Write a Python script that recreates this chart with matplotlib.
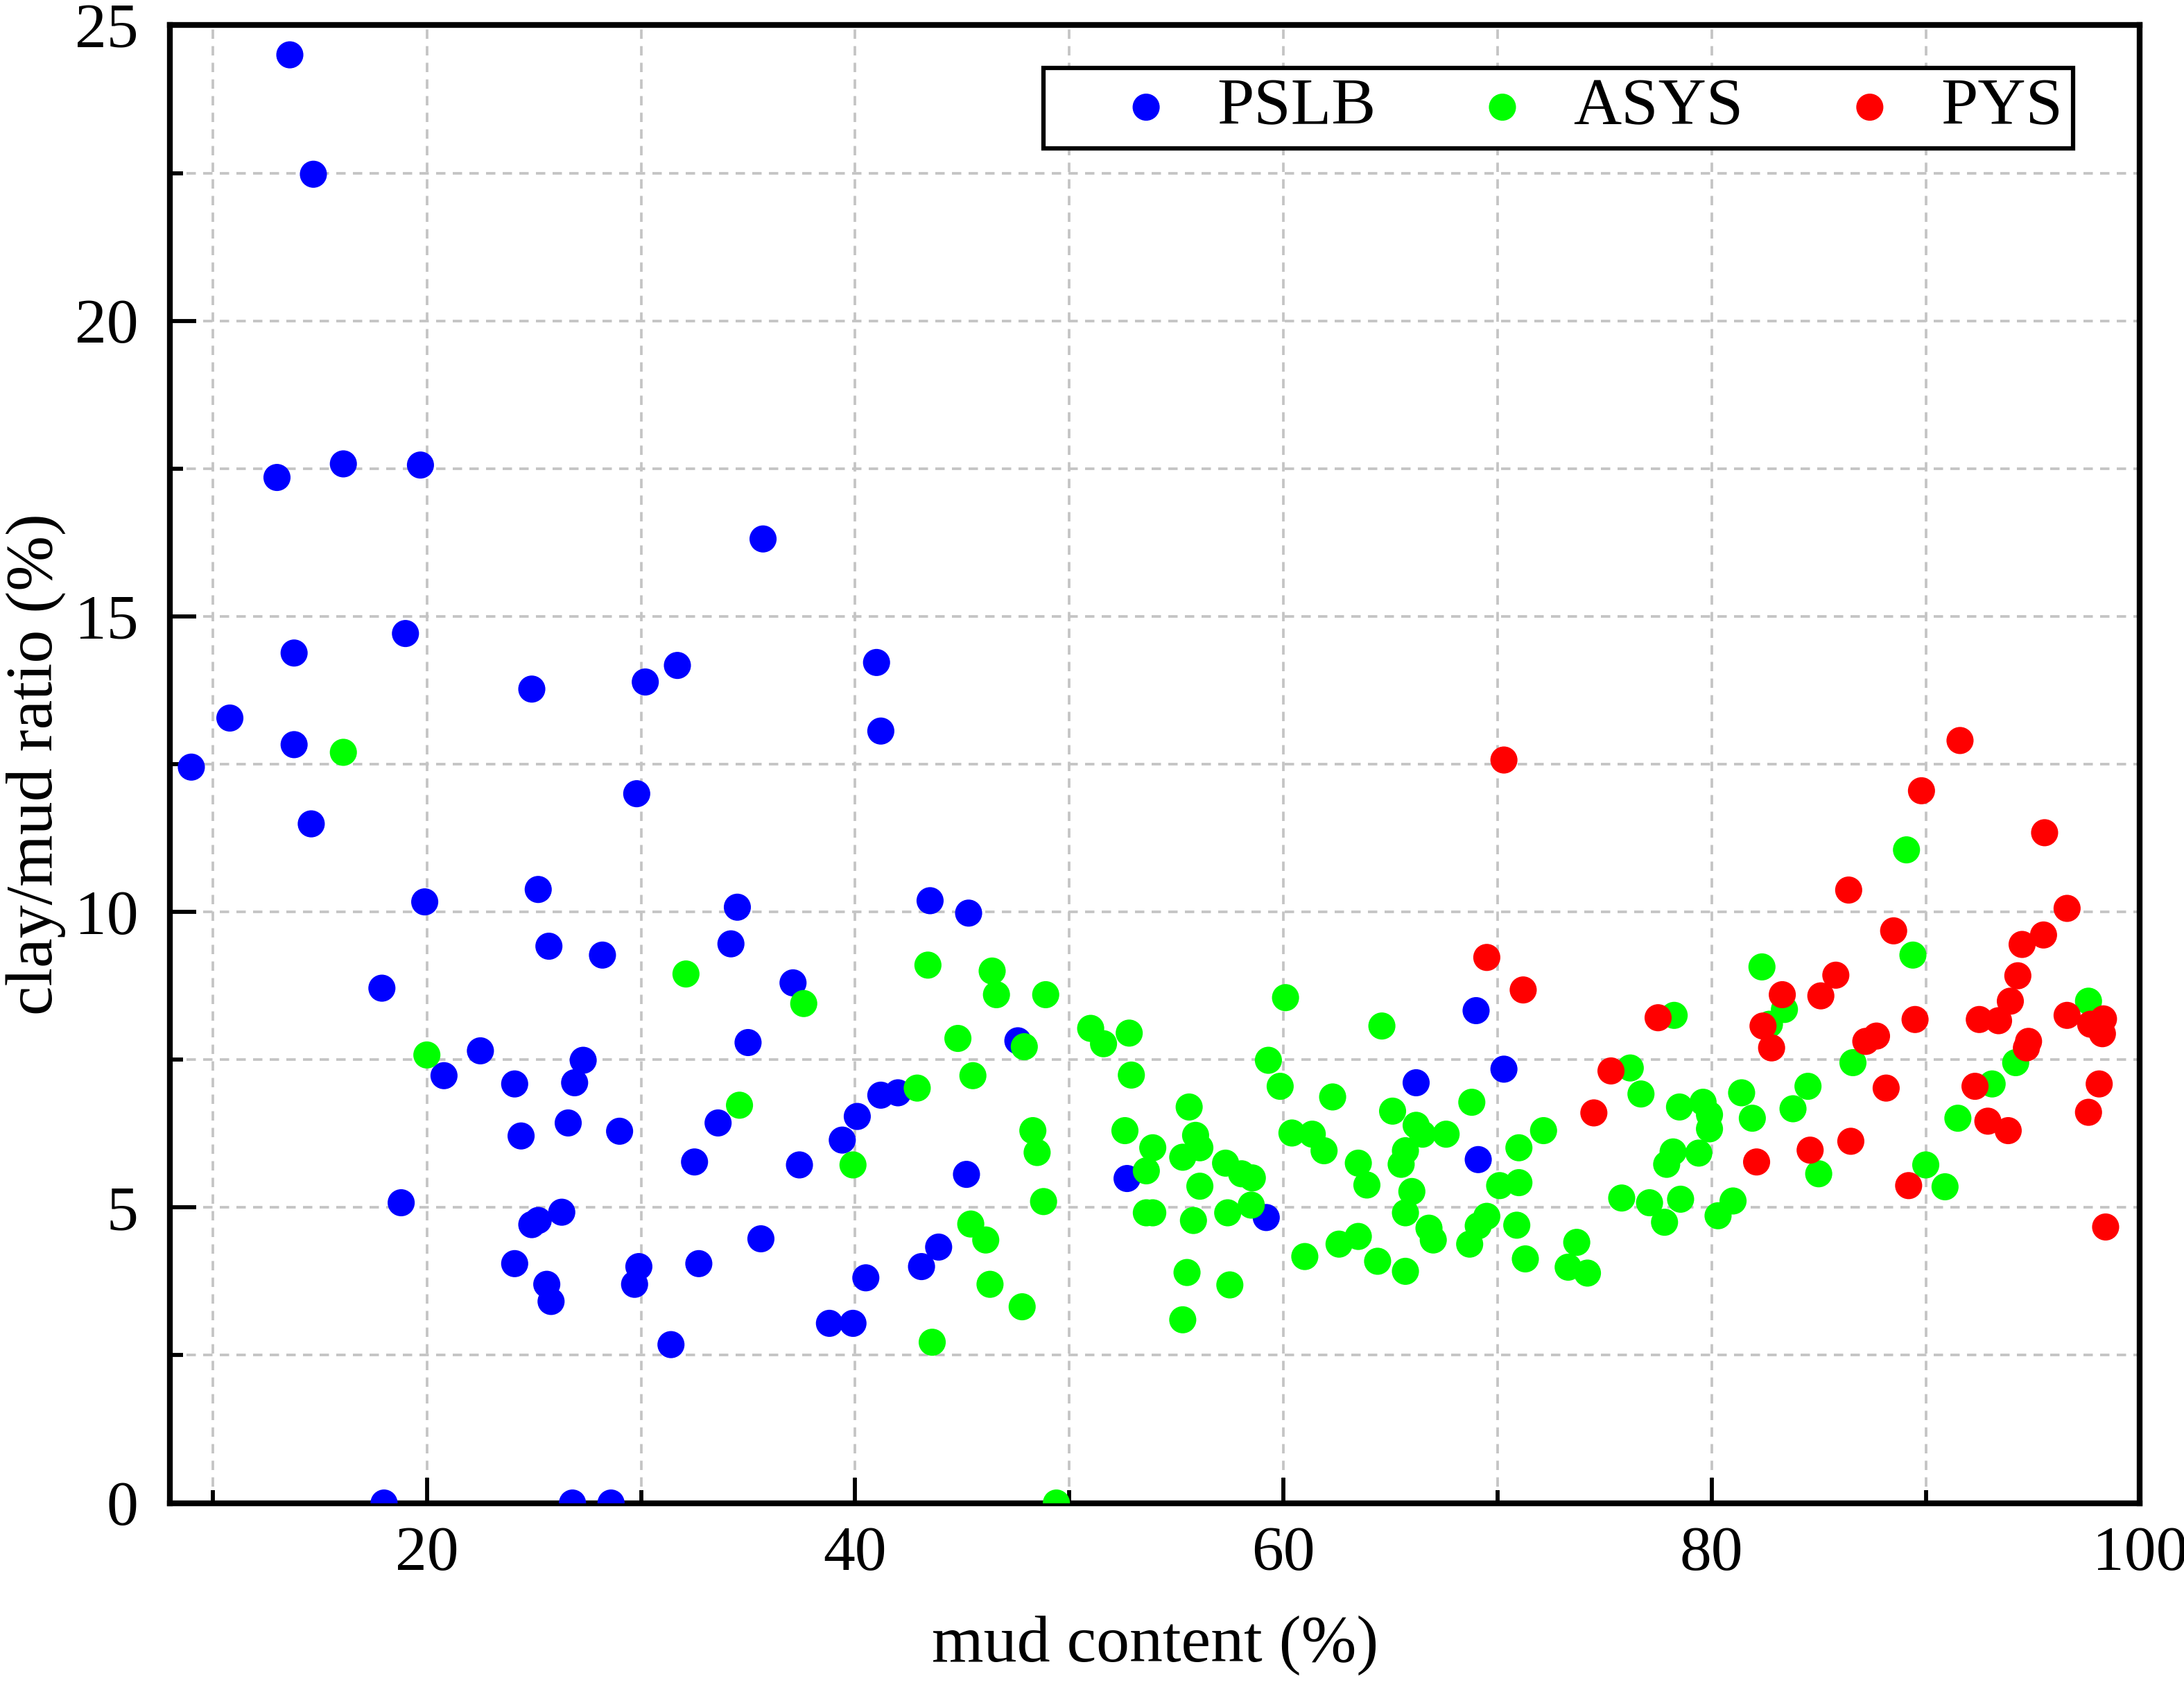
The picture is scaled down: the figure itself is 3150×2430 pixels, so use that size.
import matplotlib
matplotlib.use("Agg")
import matplotlib.pyplot as plt
from matplotlib.ticker import MultipleLocator

# ------------------------------------
# Data
# ------------------------------------
pslb_x = [9.0, 10.8, 13.6, 14.7, 13.0, 16.1, 19.7, 13.8, 13.8, 14.6, 19.0, 19.9,
          17.9, 18.8, 18.0, 20.8, 22.5, 24.9, 25.2, 25.7, 24.1, 24.4, 24.1, 24.9,
          25.2, 25.6, 25.8, 26.3, 26.6, 26.9, 27.3, 26.8, 28.2, 29.0, 28.6, 29.8,
          30.2, 31.7, 29.9, 29.7, 31.4, 32.5, 32.7, 33.6, 34.2, 34.5, 35.0, 35.7,
          35.6, 37.1, 37.4, 38.8, 39.9, 39.4, 40.1, 40.5, 41.0, 41.2, 41.2, 42.0,
          43.1, 43.9, 43.5, 45.3, 45.2, 47.6, 52.7, 59.2, 69.0, 66.2, 70.3, 69.1]
pslb_y = [12.45, 13.28, 24.5, 22.48, 17.35, 17.58, 17.56, 14.38, 12.83, 11.49, 14.71, 10.17,
          8.71, 5.08, 0.0, 7.23, 7.65, 13.77, 10.38, 9.42, 7.09, 6.21, 4.05, 4.71,
          4.78, 3.70, 3.41, 4.92, 6.43, 7.11, 7.49, 0.0, 9.27, 6.29, 0.0, 12.0,
          13.89, 14.17, 4.0, 3.70, 2.68, 5.77, 4.05, 6.43, 9.46, 10.08, 7.79, 16.31,
          4.47, 8.8, 5.72, 3.04, 3.04, 6.14, 6.54, 3.81, 14.22, 13.06, 6.90, 6.94,
          4.0, 4.33, 10.19, 9.98, 5.56, 7.82, 5.49, 4.83, 8.33, 7.11, 7.34, 5.81]

asys_x = [16.1, 20.0, 32.1, 37.6, 43.4, 46.4, 46.6, 48.9, 47.9, 51.0, 51.6, 44.8,
          45.5, 34.6, 42.9, 39.9, 48.3, 48.5, 48.8, 45.4, 46.1, 46.3, 47.8, 43.6,
          49.4, 60.1, 64.6, 52.8, 59.3, 52.9, 59.85, 62.3, 55.6, 68.8, 65.1, 52.6,
          55.9, 60.4, 61.35, 66.2, 66.5, 67.6, 72.15, 53.9, 56.1, 61.9, 71.0, 55.3,
          65.7, 65.5, 63.5, 63.9, 53.6, 57.3, 58.05, 58.55, 56.1, 70.1, 71.0, 66.0,
          65.7, 53.6, 53.9, 55.8, 57.4, 58.5, 69.5, 69.1, 70.9, 66.8, 67.0, 68.7,
          73.7, 71.3, 73.3, 74.2, 62.6, 63.5, 61.0, 64.4, 65.7, 55.5, 57.5, 55.3,
          89.1, 89.4, 82.35, 83.4, 82.7, 97.6, 78.25, 94.2, 86.6, 76.2, 76.7, 93.1,
          81.4, 84.5, 78.5, 79.6, 79.9, 79.9, 81.9, 83.8, 91.5, 85.0, 78.2, 77.9,
          79.4, 90.0, 90.9, 75.8, 77.1, 78.55, 77.8, 81.0, 80.3]
asys_y = [12.7, 7.58, 8.95, 8.45, 9.1, 9.0, 8.6, 8.6, 7.72, 8.03, 7.77, 7.86,
          7.23, 6.73, 7.02, 5.72, 6.3, 5.93, 5.1, 4.72, 4.45, 3.70, 3.32, 2.72,
          0.0, 8.55, 8.07, 7.95, 7.49, 7.24, 7.05, 6.87, 6.7, 6.78, 6.63, 6.3,
          6.22, 6.26, 6.24, 6.39, 6.24, 6.24, 6.3, 6.01, 6.01, 5.96, 6.01, 5.85,
          5.96, 5.73, 5.75, 5.38, 5.62, 5.75, 5.57, 5.5, 5.36, 5.37, 5.42, 5.27,
          4.91, 4.91, 4.91, 4.78, 4.91, 5.04, 4.85, 4.69, 4.7, 4.65, 4.45, 4.38,
          4.41, 4.13, 3.99, 3.89, 4.38, 4.51, 4.17, 4.09, 3.92, 3.9, 3.69, 3.1,
          11.05, 9.27, 9.07, 8.35, 8.1, 8.49, 8.25, 7.45, 7.45, 7.36, 6.92, 7.09,
          6.94, 7.05, 6.7, 6.78, 6.57, 6.33, 6.51, 6.67, 6.51, 5.57, 5.94, 5.73,
          5.92, 5.72, 5.35, 5.16, 5.08, 5.14, 4.75, 5.11, 4.86]

pys_x = [70.3, 69.5, 71.2, 74.5, 91.6, 89.8, 95.55, 86.4, 96.6, 88.5, 95.5, 94.5,
         94.3, 85.8, 85.1, 83.3, 82.4, 82.8, 93.95, 89.5, 92.5, 93.4, 96.6, 97.7,
         98.3, 98.25, 77.5, 87.7, 87.2, 94.8, 94.7, 75.3, 88.15, 92.3, 98.1, 97.6,
         92.9, 93.85, 86.5, 84.6, 82.1, 89.2, 98.4]
pys_y = [12.57, 9.23, 8.68, 6.6, 12.9, 12.05, 11.34, 10.37, 10.06, 9.68, 9.61, 9.45,
         8.92, 8.93, 8.58, 8.6, 8.07, 7.7, 8.49, 8.18, 8.18, 8.16, 8.25, 8.1,
         8.19, 7.94, 8.21, 7.9, 7.81, 7.81, 7.7, 7.31, 7.02, 7.05, 7.09, 6.61,
         6.46, 6.3, 6.12, 5.97, 5.77, 5.37, 4.67]

series = [("PSLB", pslb_x, pslb_y, "#0000ff"),
          ("ASYS", asys_x, asys_y, "#00ff00"),
          ("PYS", pys_x, pys_y, "#ff0000")]

# ------------------------------------
# Figure
# ------------------------------------
plt.rcParams["font.family"] = ["Liberation Serif", "DejaVu Serif"]

fig = plt.figure(figsize=(10.5, 8.1), dpi=300)
ax = fig.add_axes([0.0778, 0.108, 0.902, 0.877])

for name, xs, ys, color in series:
    ax.scatter(xs, ys, s=88, color=color, edgecolors="none", label=name, zorder=3)

ax.set_xlim(8, 100)
ax.set_ylim(0, 25)
ax.xaxis.set_major_locator(MultipleLocator(20))
ax.xaxis.set_minor_locator(MultipleLocator(10))
ax.yaxis.set_major_locator(MultipleLocator(5))
ax.yaxis.set_minor_locator(MultipleLocator(2.5))

grid_kw = dict(color="#c4c4c4", linestyle=(0, (3.6, 2.8)), linewidth=0.9)
ax.grid(True, which="both", **grid_kw)
ax.set_axisbelow(True)

for sp in ax.spines.values():
    sp.set_linewidth(2.0)

ax.tick_params(which="both", direction="in", width=1.4, labelsize=22)
ax.tick_params(which="major", length=9)
ax.tick_params(which="minor", length=4.5)
ax.tick_params(axis="x", pad=8)
ax.tick_params(axis="y", pad=11)

ax.set_xlabel("mud content (%)", fontsize=23, labelpad=11)
ax.set_ylabel("clay/mud ratio (%)", fontsize=23, labelpad=3)

# legend: wide handle with negative text pad puts the dot well inside the frame
leg = ax.legend(loc="upper right", bbox_to_anchor=(0.966, 0.971), ncol=3,
                fontsize=23, frameon=True, fancybox=False, framealpha=1,
                edgecolor="black", borderaxespad=0, handlelength=2.8,
                handletextpad=-0.33, columnspacing=0.5, borderpad=0.15)
leg.get_frame().set_linewidth(1.5)

fig.savefig("out.png", dpi=300)
